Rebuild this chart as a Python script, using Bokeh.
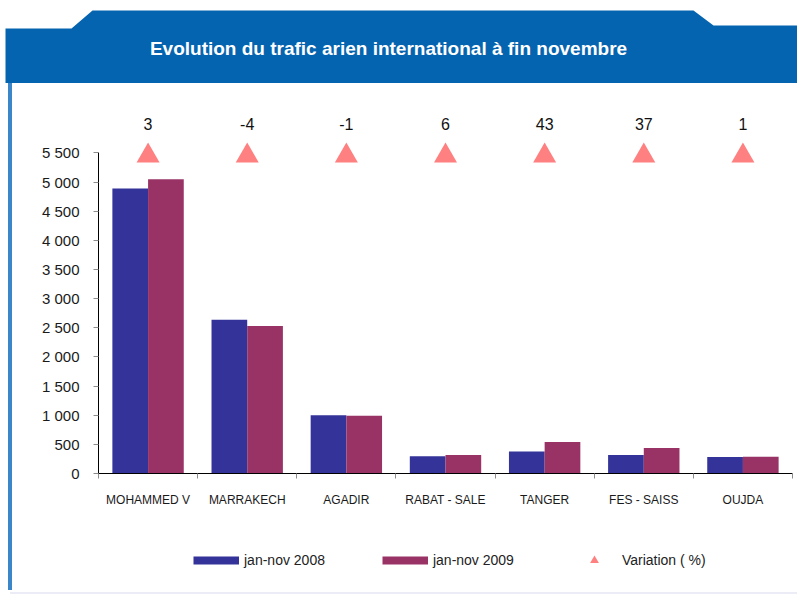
from bokeh.plotting import figure
from bokeh.layouts import column, row
from bokeh.models import (Range1d, FixedTicker, Legend, LegendItem, Spacer,
                          ColumnDataSource, CustomJSTickFormatter)
from bokeh.core.properties import value
from bokeh.embed import file_html
from bokeh.resources import INLINE

# ---------------- data ----------------
categories = ["MOHAMMED V", "MARRAKECH", "AGADIR", "RABAT - SALE", "TANGER", "FES - SAISS", "OUJDA"]
jan_nov_2008 = [4890, 2640, 1000, 298, 378, 318, 283]
jan_nov_2009 = [5050, 2530, 990, 316, 540, 436, 288]
variation_pct = [3, -4, -1, 6, 43, 37, 1]
y_ticks = [0, 500, 1000, 1500, 2000, 2500, 3000, 3500, 4000, 4500, 5000, 5500]

title_text = "Evolution du trafic arien international à fin novembre"
series_labels = ["jan-nov 2008", "jan-nov 2009", "Variation ( %)"]

# ---------------- styles ----------------
FONT = "Liberation Sans"
C08 = "#333399"
C09 = "#993366"
CTRI = "#FF8080"
HEADER = "#0564B0"
STRIP = "#3a86c9"
W, HEAD_H, MAIN_H, LEG_H = 797, 83, 430, 77
LEFT_PAD, STRIP_W = 8, 4
# header tab outline (page pixels, decoration only)
tab_x = [5, 71, 92, 693, 713, 797, 797, 5]
tab_y = [28, 28, 10, 10, 25, 25, 83, 83]


def bare(fig):
    fig.outline_line_color = None
    fig.grid.visible = False
    fig.background_fill_color = "white"
    fig.border_fill_color = "white"
    return fig


# ---------------- header ----------------
head = bare(figure(width=W, height=HEAD_H, output_backend="svg", toolbar_location=None,
                   x_range=Range1d(0, W), y_range=Range1d(HEAD_H, 0),
                   x_axis_location=None, y_axis_location=None,
                   min_border_left=0, min_border_right=0, min_border_top=0, min_border_bottom=0))
head.patch(tab_x, tab_y, fill_color=HEADER, line_color=None)
head.text(x=[388], y=[48], text=[title_text], text_align="center", text_baseline="middle",
          text_color="white", text_font=value(FONT), text_font_style="bold",
          text_font_size="19px")

# ---------------- main chart ----------------
n = len(categories)
bar_w = 0.36
centers = [i + 0.5 for i in range(n)]
level = y_ticks[-1]

src = ColumnDataSource(dict(
    x=centers,
    x08=[c - bar_w / 2 for c in centers],
    x09=[c + bar_w / 2 for c in centers],
    v08=jan_nov_2008,
    v09=jan_nov_2009,
    lab=[str(v) for v in variation_pct],
    lvl=[level] * n,
    tri=[level - 50] * n,
))

BODY_W = W - LEFT_PAD - STRIP_W
p = bare(figure(width=BODY_W, height=MAIN_H, output_backend="svg", toolbar_location=None,
                x_range=Range1d(0, n), y_range=Range1d(0, 6400),
                min_border_left=86, min_border_right=5, min_border_top=17, min_border_bottom=40))

p.vbar(x="x08", top="v08", width=bar_w, source=src, fill_color=C08, line_color=None)
p.vbar(x="x09", top="v09", width=bar_w, source=src, fill_color=C09, line_color=None)
p.scatter(x="x", y="tri", source=src, marker="triangle", size=23,
          fill_color=CTRI, line_color=None)
p.text(x="x", y="lvl", text="lab", source=src, text_align="center", text_baseline="middle",
       y_offset=-29, text_font=value(FONT), text_font_size="16px", text_color="#111111")

# x axis
xa = p.xaxis[0]
xa.ticker = FixedTicker(ticks=centers, minor_ticks=list(range(n + 1)))
xa.formatter = CustomJSTickFormatter(args=dict(labels=categories),
                                     code="return labels[Math.floor(tick)];")
xa.axis_line_color = "black"
xa.major_tick_line_color = None
xa.major_tick_out = 0
xa.major_tick_in = 0
xa.minor_tick_out = 5
xa.minor_tick_in = 0
xa.minor_tick_line_color = "#8c8c8c"
xa.major_label_standoff = 14
xa.major_label_text_font = FONT
xa.major_label_text_font_size = "12px"
xa.major_label_text_color = "#1a1a1a"

# y axis
ya = p.yaxis[0]
ya.bounds = (y_ticks[0], y_ticks[-1])
ya.ticker = FixedTicker(ticks=y_ticks)
ya.formatter = CustomJSTickFormatter(
    code='return tick.toFixed(0).replace(/\\B(?=(\\d{3})+(?!\\d))/g, " ");')
ya.axis_line_color = "black"
ya.major_tick_line_color = "#8c8c8c"
ya.major_tick_out = 5
ya.major_tick_in = 0
ya.minor_tick_line_color = None
ya.major_label_standoff = 14
ya.major_label_text_font = FONT
ya.major_label_text_font_size = "15px"
ya.major_label_text_color = "#1a1a1a"

# ---------------- legend strip ----------------
# The legend keys reuse the chart's data; in this strip's 0..1 window they stay out of view,
# only their legend swatches are drawn.
lf = bare(figure(width=BODY_W, height=LEG_H, output_backend="svg", toolbar_location=None,
                 x_range=Range1d(0, 1), y_range=Range1d(0, 1),
                 x_axis_location=None, y_axis_location=None,
                 min_border_left=0, min_border_right=0, min_border_top=0, min_border_bottom=0))
k08 = lf.line(x="x08", y="v08", source=src, line_color=C08, line_width=8)
k09 = lf.line(x="x09", y="v09", source=src, line_color=C09, line_width=8)
ktri = lf.scatter(x="x", y="tri", source=src, marker="triangle", fill_color=CTRI, line_color=None)
leg = Legend(items=[LegendItem(label=series_labels[0], renderers=[k08]),
                    LegendItem(label=series_labels[1], renderers=[k09]),
                    LegendItem(label=series_labels[2], renderers=[ktri])],
             location=(95, 19), orientation="horizontal",
             glyph_width=46, glyph_height=22, label_height=22, label_standoff=5,
             spacing=57, padding=0, margin=0, border_line_color=None, background_fill_alpha=0,
             label_text_font=FONT, label_text_font_size="14px", label_text_color="#222222")
lf.add_layout(leg)

strip = Spacer(width=STRIP_W, height=MAIN_H + LEG_H, styles={"background-color": STRIP})
pad = Spacer(width=LEFT_PAD, height=MAIN_H + LEG_H)
bottom_rule = row(Spacer(width=10, height=2),
                  Spacer(width=W - 10, height=2, styles={"background-color": "#ececf6"}),
                  spacing=0)
layout = column(head, row(pad, strip, column(p, lf, spacing=0), spacing=0),
                Spacer(width=W, height=2), bottom_rule, spacing=0)

open("out.html", "w").write(file_html(layout, INLINE))
